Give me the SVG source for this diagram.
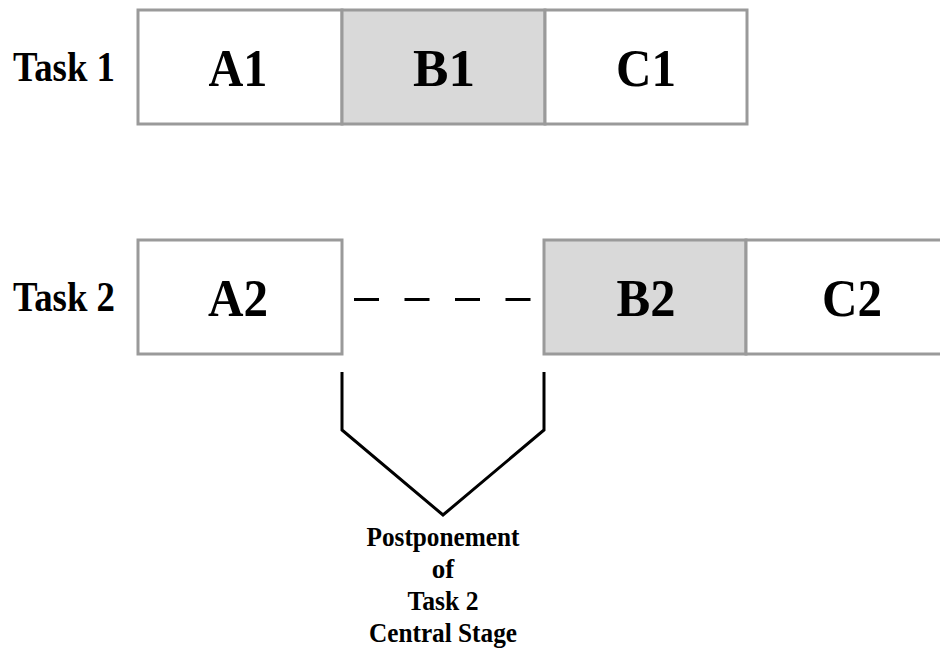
<svg xmlns="http://www.w3.org/2000/svg" width="940" height="650" viewBox="0 0 940 650">
<style>
.box{stroke:#9a9a9a;stroke-width:3;fill:#fff}
.gray{fill:#d9d9d9}
.t{font-family:"Liberation Serif","Times New Roman",serif;font-weight:bold;fill:#000}
.big{font-size:52px;text-anchor:middle}
.lab{font-size:43px}
.note{font-size:27px;text-anchor:middle}
.ln{stroke:#000;stroke-width:3;fill:none}
</style>
<rect width="940" height="650" fill="#fff"/>
<g id="task1-label"><text class="t lab" x="13" y="81" textLength="102" lengthAdjust="spacingAndGlyphs">Task 1</text></g>
<g id="A1"><rect class="box" x="138" y="10" width="204" height="114"/><text class="t big" x="238" y="86" textLength="59" lengthAdjust="spacingAndGlyphs">A1</text></g>
<g id="B1"><rect class="box gray" x="342" y="10" width="203" height="114"/><text class="t big" x="444" y="86" textLength="62" lengthAdjust="spacingAndGlyphs">B1</text></g>
<g id="C1"><rect class="box" x="545" y="10" width="202" height="114"/><text class="t big" x="646" y="86" textLength="60" lengthAdjust="spacingAndGlyphs">C1</text></g>
<g id="task2-label"><text class="t lab" x="13" y="311" textLength="102" lengthAdjust="spacingAndGlyphs">Task 2</text></g>
<g id="A2"><rect class="box" x="138" y="240" width="204" height="114"/><text class="t big" x="238" y="316" textLength="60" lengthAdjust="spacingAndGlyphs">A2</text></g>
<g id="B2"><rect class="box gray" x="544" y="240" width="202" height="114"/><text class="t big" x="646" y="316" textLength="59" lengthAdjust="spacingAndGlyphs">B2</text></g>
<g id="C2"><rect class="box" x="746" y="240" width="200" height="114"/><text class="t big" x="852" y="316" textLength="60" lengthAdjust="spacingAndGlyphs">C2</text></g>
<g id="connectors">
<line class="ln" x1="354" y1="299.5" x2="531" y2="299.5" stroke-dasharray="25 25.5"/>
<polyline class="ln" points="342,372 342,430 443,515 544,430 544,372"/>
</g>
<g id="note">
<text class="t note" x="443" y="546" textLength="153" lengthAdjust="spacingAndGlyphs">Postponement</text>
<text class="t note" x="443" y="578">of</text>
<text class="t note" x="443" y="610" textLength="71" lengthAdjust="spacingAndGlyphs">Task 2</text>
<text class="t note" x="443" y="642" textLength="148" lengthAdjust="spacingAndGlyphs">Central Stage</text>
</g>
</svg>
